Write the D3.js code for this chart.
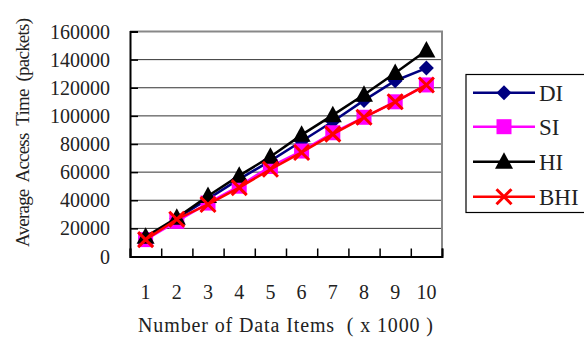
<!DOCTYPE html>
<html><head><meta charset="utf-8">
<script src="https://cdn.jsdelivr.net/npm/d3@7"></script>
<style>body{margin:0;background:#fff}svg{display:block}</style>
</head><body>
<svg id="c" width="584" height="338"></svg>
<script>
const categories = ["1","2","3","4","5","6","7","8","9","10"];
const yTicks = [0,20000,40000,60000,80000,100000,120000,140000,160000];
const DI  = [13000, 27000, 41000, 55000, 68000, 82000, 96000, 111000, 125000, 134000];
const SI  = [12000, 25000, 38000, 50000, 64000, 75000, 88000, 99000, 110000, 122000];
const HI  = [14000, 27500, 43000, 57500, 71000, 86500, 100500, 115000, 130500, 146500];
const BHI = [12000, 26500, 37000, 49000, 62000, 74000, 87000, 99000, 110000, 122000];
const seriesNames = ["DI","SI","HI","BHI"];
const seriesColors = ["#000080","#ff00ff","#000000","#ff0000"];
const seriesData = [DI, SI, HI, BHI];

const svg = d3.select("#c");
const L = 130, R = 442, T = 31.5, B = 256.5;
const x = d3.scaleBand().domain(categories).range([L, R]);
const y = d3.scaleLinear().domain([0, 160000]).range([B, T]);
const font = "'Liberation Serif','Times New Roman',serif";

// gridlines
svg.append("g").selectAll("line").data(yTicks.filter(d => d > 0 && d < 160000)).join("line")
  .attr("x1", L).attr("x2", R).attr("y1", d => y(d)).attr("y2", d => y(d))
  .attr("stroke", "#333").attr("stroke-width", 1);
// top & right border
svg.append("line").attr("x1", L).attr("x2", R+1).attr("y1", T).attr("y2", T).attr("stroke", "#888").attr("stroke-width", 2);
svg.append("line").attr("x1", R).attr("x2", R).attr("y1", T).attr("y2", B).attr("stroke", "#888").attr("stroke-width", 2);

// left axis
const yAxis = d3.axisRight(y).tickValues(yTicks).tickSize(8).tickFormat("");
const gy = svg.append("g").attr("transform", `translate(${L},0)`).call(yAxis);
gy.select(".domain").attr("stroke", "#000").attr("stroke-width", 2);
gy.selectAll(".tick line").attr("stroke", "#000").attr("stroke-width", 1.5);
svg.append("g").selectAll("text").data(yTicks).join("text")
  .attr("x", 110).attr("y", d => y(d)).attr("dy", "0.35em")
  .attr("text-anchor", "end").attr("font-family", font).attr("font-size", 20).attr("fill", "#222")
  .text(d => d);

// bottom axis
const xb = d3.scaleLinear().domain([0, categories.length]).range([L, R]);
const xAxis = d3.axisTop(xb).ticks(10).tickSize(8).tickFormat("");
const gx = svg.append("g").attr("transform", `translate(0,${B})`).call(xAxis);
gx.select(".domain").attr("stroke", "#000").attr("stroke-width", 2);
gx.selectAll(".tick line").attr("stroke", "#000").attr("stroke-width", 1.5);
svg.append("g").selectAll("text").data(categories).join("text")
  .attr("x", d => x(d) + x.bandwidth()/2).attr("y", 292).attr("dy", "0.35em")
  .attr("text-anchor", "middle").attr("font-family", font).attr("font-size", 20).attr("fill", "#222")
  .text(d => d);

// titles
svg.append("text").attr("x", 285.5).attr("y", 325).attr("dy", "0.35em")
  .attr("text-anchor", "middle").attr("font-family", font).attr("font-size", 20).attr("fill", "#222")
  .style("white-space", "pre")
  .attr("textLength", 295).attr("lengthAdjust", "spacing")
  .text("Number of Data Items  ( x 1000 )");
svg.append("text").attr("transform", "translate(23,132.5) rotate(-90)").attr("dy", "0.33em")
  .attr("text-anchor", "middle").attr("font-family", font).attr("font-size", 19).attr("fill", "#222")
  .style("white-space", "pre")
  .attr("textLength", 229).attr("lengthAdjust", "spacing")
  .text("Average  Access  Time  (packets)");

// markers
function drawMarker(g, i, cx, cy) {
  const c = seriesColors[i];
  if (i === 0) {
    g.append("path").attr("d", `M${cx},${cy-7.5}L${cx+7.5},${cy}L${cx},${cy+7.5}L${cx-7.5},${cy}Z`).attr("fill", c);
  } else if (i === 1) {
    g.append("rect").attr("x", cx-7.5).attr("y", cy-7.5).attr("width", 15).attr("height", 15).attr("fill", c);
  } else if (i === 2) {
    g.append("path").attr("d", `M${cx},${cy-9.5}L${cx+9},${cy+7}L${cx-9},${cy+7}Z`).attr("fill", c);
  } else {
    g.append("path").attr("d", `M${cx-7.5},${cy-7.5}L${cx+7.5},${cy+7.5}M${cx+7.5},${cy-7.5}L${cx-7.5},${cy+7.5}`)
      .attr("stroke", c).attr("stroke-width", 3).attr("fill", "none");
  }
}

const line = d3.line().x((d, j) => x(categories[j]) + x.bandwidth()/2).y(d => y(d));
seriesData.forEach((data, i) => {
  const g = svg.append("g");
  g.append("path").attr("d", line(data)).attr("fill", "none")
    .attr("stroke", seriesColors[i]).attr("stroke-width", 2.5);
  data.forEach((v, j) => drawMarker(g, i, x(categories[j]) + x.bandwidth()/2, y(v)));
});

// legend
const lg = svg.append("g");
lg.append("rect").attr("x", 466).attr("y", 74.5).attr("width", 125).attr("height", 138)
  .attr("fill", "#fff").attr("stroke", "#000").attr("stroke-width", 1.2);
const legY = [92.7, 126.7, 161.7, 196.7];
seriesNames.forEach((n, i) => {
  lg.append("line").attr("x1", 473).attr("x2", 535).attr("y1", legY[i]).attr("y2", legY[i])
    .attr("stroke", seriesColors[i]).attr("stroke-width", 2.5);
  drawMarker(lg, i, 504, legY[i]);
  lg.append("text").attr("x", 539).attr("y", legY[i]).attr("dy", "0.36em")
    .attr("font-family", font).attr("font-size", 23).attr("fill", "#222").text(n);
});
</script>
</body></html>
